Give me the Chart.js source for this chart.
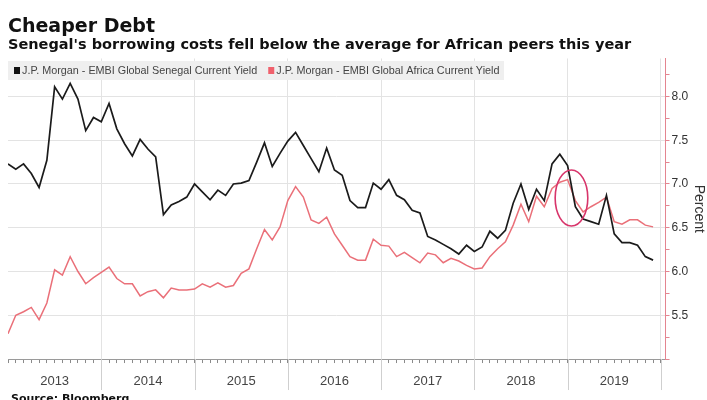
<!DOCTYPE html>
<html>
<head>
<meta charset="utf-8">
<title>Cheaper Debt</title>
<script src="https://cdn.jsdelivr.net/npm/chart.js@4.4.1/dist/chart.umd.min.js"></script>
<style>
    html, body { margin: 0; padding: 0; background: #fff; }
</style>
</head>
<body>
<canvas id="chart" width="707" height="400"></canvas>
<script>
// monthly values, Jan 2013 .. Dec 2019
const senegal = [
    7.23, 7.17, 7.23, 7.12, 6.96, 7.27, 8.11, 7.97, 8.15, 7.97,
    7.61, 7.76, 7.71, 7.92, 7.63, 7.46, 7.32, 7.51, 7.40, 7.31,
    6.65, 6.76, 6.80, 6.85, 7.00, 6.91, 6.82, 6.93, 6.87, 7.00,
    7.01, 7.04, 7.25, 7.47, 7.20, 7.35, 7.49, 7.59, 7.44, 7.29,
    7.14, 7.41, 7.16, 7.10, 6.81, 6.73, 6.73, 7.01, 6.94, 7.05,
    6.87, 6.82, 6.70, 6.67, 6.40, 6.36, 6.31, 6.26, 6.20, 6.30,
    6.23, 6.28, 6.46, 6.38, 6.47, 6.78, 7.00, 6.71, 6.94, 6.81,
    7.23, 7.34, 7.21, 6.74, 6.60, 6.57, 6.54, 6.87, 6.43, 6.33,
    6.33, 6.30, 6.17, 6.13
];
const africa = [
    5.29, 5.50, 5.54, 5.59, 5.45, 5.64, 6.02, 5.96, 6.17, 6.00,
    5.86, 5.93, 5.99, 6.05, 5.92, 5.86, 5.86, 5.72, 5.77, 5.79,
    5.70, 5.81, 5.79, 5.79, 5.80, 5.86, 5.82, 5.87, 5.82, 5.84,
    5.98, 6.03, 6.26, 6.48, 6.36, 6.51, 6.81, 6.97, 6.85, 6.59,
    6.55, 6.62, 6.43, 6.30, 6.17, 6.13, 6.13, 6.37, 6.30, 6.29,
    6.17, 6.22, 6.16, 6.10, 6.21, 6.19, 6.10, 6.15, 6.12, 6.07,
    6.03, 6.04, 6.17, 6.26, 6.34, 6.53, 6.77, 6.57, 6.86, 6.74,
    6.95, 7.02, 7.05, 6.81, 6.68, 6.74, 6.79, 6.85, 6.57, 6.54,
    6.59, 6.59, 6.53, 6.51
];
const years = ['2013', '2014', '2015', '2016', '2017', '2018', '2019'];
const seriesNames = [
    'J.P. Morgan - EMBI Global Senegal Current Yield',
    'J.P. Morgan - EMBI Global Africa Current Yield'
];

const BLACK = '#1b1b1b';
const RED = '#ea7079';

const toPoints = arr => arr.map((v, i) => ({x: i, y: v}));
const isHalf = v => Math.abs(v * 2 - Math.round(v * 2)) < 1e-6;

// legend box, year separators, the circled crossover and the source line
const extras = {
    id: 'extras',
    beforeDatasetsDraw(chart) {
        const ctx = chart.ctx;
        ctx.save();
        ctx.fillStyle = '#efefef';
        ctx.fillRect(8, 61, 496, 19);
        ctx.font = '10.8px "Liberation Sans", Arial, sans-serif';
        ctx.textBaseline = 'middle';
        let x = 14;
        chart.data.datasets.forEach(ds => {
            ctx.fillStyle = ds.legendColor;
            ctx.fillRect(x, 67, 6, 7);
            ctx.fillStyle = '#444';
            ctx.fillText(ds.label, x + 8, 71);
            x += 8 + ctx.measureText(ds.label).width + 11;
        });
        ctx.restore();
    },
    afterDatasetsDraw(chart) {
        const ctx = chart.ctx;
        const xs = chart.scales.x, ys = chart.scales.y;
        const cx = xs.getPixelForValue(72.5), cy = ys.getPixelForValue(6.84);
        const rx = xs.getPixelForValue(74.6) - cx;
        const ry = cy - ys.getPixelForValue(7.16);
        ctx.save();
        ctx.strokeStyle = '#d8356b';
        ctx.lineWidth = 1.6;
        ctx.beginPath();
        ctx.ellipse(cx, cy, rx, ry, 0, 0, Math.PI * 2);
        ctx.stroke();
        ctx.restore();
    },
    afterDraw(chart) {
        const ctx = chart.ctx;
        const xs = chart.scales.x;
        const bottom = chart.chartArea.bottom;
        ctx.save();
        ctx.strokeStyle = '#cfcfcf';
        ctx.lineWidth = 1;
        for (let k = 1; k <= years.length; k++) {
            const px = Math.round(xs.getPixelForValue(k * 12)) + 0.5;
            ctx.beginPath();
            ctx.moveTo(px, bottom);
            ctx.lineTo(px, bottom + 31);
            ctx.stroke();
        }
        ctx.fillStyle = '#111';
        ctx.font = 'bold 11px "DejaVu Sans", sans-serif';
        ctx.textBaseline = 'alphabetic';
        ctx.fillText('Source: Bloomberg', 11, 402);
        ctx.restore();
    }
};

new Chart(document.getElementById('chart'), {
    type: 'line',
    data: {
        datasets: [
            {
                label: seriesNames[0],
                data: toPoints(senegal),
                borderColor: BLACK,
                legendColor: '#111',
                borderWidth: 1.7,
                pointRadius: 0,
                tension: 0
            },
            {
                label: seriesNames[1],
                data: toPoints(africa),
                borderColor: RED,
                legendColor: '#f0606c',
                borderWidth: 1.5,
                pointRadius: 0,
                tension: 0
            }
        ]
    },
    options: {
        responsive: false,
        animation: false,
        layout: {padding: {left: 8, right: 0, top: 0, bottom: 0}},
        plugins: {
            legend: {display: false},
            tooltip: {enabled: false},
            title: {
                display: true,
                text: 'Cheaper Debt',
                align: 'start',
                color: '#111',
                font: {family: '"DejaVu Sans", sans-serif', size: 19, weight: 'bold', lineHeight: 1.05},
                padding: {top: 17, bottom: 0}
            },
            subtitle: {
                display: true,
                text: "Senegal's borrowing costs fell below the average for African peers this year",
                align: 'start',
                color: '#111',
                font: {family: '"DejaVu Sans", sans-serif', size: 14.5, weight: 'bold', lineHeight: 1.16},
                padding: {top: 0, bottom: 4.7}
            }
        },
        scales: {
            x: {
                type: 'linear',
                min: 0,
                max: 84.6,
                border: {color: '#9a9a9a'},
                grid: {
                    color: ctx => (ctx.tick && ctx.tick.value > 0 && ctx.tick.value % 12 === 0) ? '#e3e3e3' : 'rgba(0,0,0,0)',
                    tickColor: '#8a8a8a',
                    tickLength: 4
                },
                ticks: {
                    stepSize: 1,
                    autoSkip: false,
                    includeBounds: false,
                    maxRotation: 0,
                    padding: 6,
                    color: '#444',
                    font: {family: '"Liberation Sans", Arial, sans-serif', size: 13, lineHeight: 1.92},
                    callback: v => (v % 12 === 6 ? years[(v - 6) / 12] : '')
                }
            },
            y: {
                position: 'right',
                min: 5,
                max: 8.434,
                border: {color: '#e48590', width: 1},
                grid: {
                    color: ctx => (ctx.tick && isHalf(ctx.tick.value) && ctx.tick.value > 5.01) ? '#e3e3e3' : 'rgba(0,0,0,0)',
                    tickColor: '#e48590',
                    tickLength: 4
                },
                ticks: {
                    stepSize: 0.25,
                    includeBounds: false,
                    padding: 2,
                    color: '#333',
                    font: {family: '"Liberation Sans", Arial, sans-serif', size: 12},
                    callback: v => (isHalf(v) && v > 5.01 ? v.toFixed(1) : '')
                },
                title: {
                    display: true,
                    text: 'Percent',
                    color: '#333',
                    font: {family: '"Liberation Sans", Arial, sans-serif', size: 14},
                    padding: {top: 0, bottom: 0}
                }
            }
        }
    },
    plugins: [extras]
});
</script>
</body>
</html>
